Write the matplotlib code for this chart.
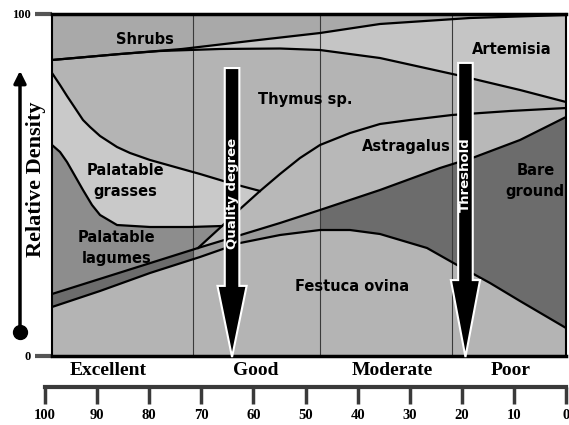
import matplotlib.pyplot as plt
from matplotlib.patches import FancyArrow, Rectangle
from matplotlib.transforms import blended_transform_factory

# condition score runs 100 (left) -> 0 (right); density 0..100
X_LEFT, X_RIGHT = 98.66, 0.0

# boundary curves, left to right (score, relative density)
shrubs_x = [98.66, 85.60, 73.70, 60.65, 47.22, 35.70, 18.43, 0.0]
shrubs_y = [86.55, 88.30, 89.77, 92.11, 94.44, 97.08, 98.83, 99.71]

artem_x = [98.66, 85.60, 77.93, 66.41, 54.89, 47.22, 35.70, 20.92, 8.83, 0.0]
artem_y = [86.55, 88.30, 89.18, 89.77, 89.91, 89.47, 87.13, 82.16, 77.78, 74.27]

grass_x = [98.66, 97.12, 95.78, 94.24, 92.71, 91.36, 89.44, 86.18, 83.69, 79.85, 75.05,
           70.25, 64.49, 58.73]
grass_y = [82.75, 79.24, 76.02, 72.51, 69.01, 66.96, 64.33, 61.11, 59.36, 57.31, 55.26,
           53.22, 50.58, 48.25]

legume_x = [98.66, 97.12, 95.78, 94.24, 92.71, 90.98, 89.44, 86.18, 79.85, 72.17, 66.03]
legume_y = [61.70, 59.65, 56.73, 52.63, 48.54, 44.15, 41.23, 38.30, 37.72, 37.72, 38.01]

astra_x = [70.63, 66.03, 62.57, 58.73, 54.89, 51.06, 47.22, 41.46, 35.70, 29.94, 21.88, 10.75, 0.0]
astra_y = [31.58, 38.01, 42.98, 48.25, 53.22, 57.89, 61.70, 65.20, 67.84, 69.01, 70.47, 71.64, 72.51]

bare_x = [98.66, 70.63, 54.89, 47.22, 35.70, 24.18, 17.47, 8.83, 0.0]
bare_y = [18.13, 31.58, 38.89, 42.69, 48.54, 54.97, 58.19, 63.16, 69.88]

festuca_x = [98.66, 89.44, 79.85, 70.25, 62.57, 54.89, 47.22, 41.46, 35.70, 26.68, 20.92, 14.59, 8.83, 0.0]
festuca_y = [14.33, 19.01, 24.27, 28.95, 33.04, 35.38, 36.84, 36.84, 35.67, 31.58, 26.61, 21.35, 16.08, 8.19]

zone_bounds = [71.6, 47.22, 21.9]
zone_names = ["Excellent", "Good", "Moderate", "Poor"]
zone_label_x = [87.9, 59.5, 33.4, 10.7]
scale_ticks = [100, 90, 80, 70, 60, 50, 40, 30, 20, 10, 0]

# species labels: (text, score, density)
species_labels = [
    ("Shrubs", 80.8, 92.4),
    ("Thymus sp.", 50.1, 74.9),
    ("Artemisia", 10.4, 89.5),
    ("Astragalus", 30.6, 61.4),
    ("Palatable\ngrasses", 84.5, 51.2),
    ("Palatable\nlagumes", 86.2, 31.6),
    ("Bare\nground", 5.9, 51.2),
    ("Festuca ovina", 41.1, 20.2),
]

# arrows: (label, score, top, head start, label centre)
quality_arrow = ("Quality degree", 64.1, 84.2, 20.5, 47.4)
threshold_arrow = ("Threshold", 19.3, 85.7, 22.2, 52.9)


def pick(cx, cy, lo, hi):
    pts = [(x, y) for x, y in zip(cx, cy) if lo - 1e-6 <= x <= hi + 1e-6]
    return [p[0] for p in pts], [p[1] for p in pts]


fig = plt.figure(figsize=(5.69, 4.25), dpi=100)
ax = fig.add_axes([52 / 569, 69 / 425, 514 / 569, 342 / 425])
ax.set_xlim(X_LEFT, X_RIGHT)
ax.set_ylim(0, 100)
ax.set_facecolor("#b4b4b4")

# shrubs
ax.fill(shrubs_x + [X_RIGHT, X_LEFT], shrubs_y + [100, 100], color="#a9a9a9", lw=0, zorder=1)
# artemisia
ax.fill(shrubs_x + artem_x[::-1], shrubs_y + artem_y[::-1], color="#c5c5c5", lw=0, zorder=1)
# palatable grasses
ax_x, ax_y = pick(astra_x, astra_y, grass_x[-1], legume_x[-1])
ax.fill(grass_x + ax_x[::-1] + legume_x[::-1], grass_y + ax_y[::-1] + legume_y[::-1],
        color="#c9c9c9", lw=0, zorder=1)
# palatable legumes
a2x, a2y = pick(astra_x, astra_y, legume_x[-1], astra_x[0])
b2x, b2y = pick(bare_x, bare_y, astra_x[0], X_LEFT)
ax.fill(legume_x + a2x[::-1] + b2x[::-1], legume_y + a2y[::-1] + b2y[::-1],
        color="#8d8d8d", lw=0, zorder=1)
# astragalus
b3x, b3y = pick(bare_x, bare_y, X_RIGHT, astra_x[0])
ax.fill(astra_x + b3x[::-1], astra_y + b3y[::-1], color="#b8b8b8", lw=0, zorder=1)
# bare ground band
band_x = bare_x + festuca_x[::-1]
band_y = bare_y + festuca_y[::-1]
ax.fill(band_x, band_y, color="#6c6c6c", lw=0, zorder=1)
mid = ax.fill(band_x, band_y, color="#9a9a9a", lw=0, zorder=1)[0]
mid.set_clip_path(Rectangle((zone_bounds[1], 0), zone_bounds[0] - zone_bounds[1], 100,
                            transform=ax.transData))
# festuca
ax.fill(festuca_x + [X_RIGHT, X_LEFT], festuca_y + [0, 0], color="#b4b4b4", lw=0, zorder=1)

for cx, cy in [(shrubs_x, shrubs_y), (artem_x, artem_y), (grass_x, grass_y),
               (legume_x, legume_y), (astra_x, astra_y), (bare_x, bare_y),
               (festuca_x, festuca_y)]:
    ax.plot(cx, cy, color="black", lw=1.6, zorder=3, solid_joinstyle="round")

for xb in zone_bounds:
    ax.axvline(xb, color="#3a3a3a", lw=0.8, zorder=2)

for txt, x, y in species_labels:
    ax.text(x, y, txt, ha="center", va="center", fontsize=10.5, fontweight="bold",
            family="DejaVu Sans", linespacing=1.45, zorder=4, clip_on=True)

for label, x, top, head, ymid in [quality_arrow, threshold_arrow]:
    arr = FancyArrow(x, top, 0, -top - 0.3, width=2.8, head_width=5.6, head_length=head + 0.3,
                     length_includes_head=True, fc="black", ec="white", lw=1.5, zorder=5,
                     clip_on=False)
    ax.add_patch(arr)
    ax.text(x, ymid, label, rotation=90, ha="center", va="center",
            color="white", fontsize=9.5, fontweight="bold", zorder=6)

# frame and y ticks
for side, w in [("top", 2.5), ("bottom", 2.5), ("left", 1.5), ("right", 1.5)]:
    ax.spines[side].set_linewidth(w)
    ax.spines[side].set_color("black")
ax.set_xticks([])
ax.set_yticks([0, 100])
ax.set_yticklabels(["0", "100"], family="Liberation Serif", fontweight="bold", fontsize=9)
ax.tick_params(axis="y", length=12, width=3, color="#555555", pad=3)

blend = blended_transform_factory(ax.transData, ax.transAxes)
for name, x in zip(zone_names, zone_label_x):
    ax.text(x, -0.041, name, transform=blend, ha="center", va="center",
            family="Liberation Serif", fontweight="bold", fontsize=14)

# bottom condition scale
sc = fig.add_axes([45 / 569, (425 - 387) / 425, 521 / 569, 0.0001])
sc.set_xlim(100, 0)
for side in ["top", "left", "right"]:
    sc.spines[side].set_visible(False)
sc.spines["bottom"].set_linewidth(3)
sc.spines["bottom"].set_color("#3a3a3a")
sc.set_yticks([])
sc.set_xticks(scale_ticks)
sc.set_xticklabels([str(t) for t in scale_ticks], family="Liberation Serif",
                   fontweight="bold", fontsize=10.5)
sc.tick_params(axis="x", length=12, width=2.5, color="#3a3a3a", pad=4)

# left "Relative Density" arrow
ov = fig.add_axes([0, 0, 1, 1])
ov.set_xlim(0, 569)
ov.set_ylim(425, 0)
ov.axis("off")
ov.annotate("", xy=(20, 68), xytext=(20, 332),
            arrowprops=dict(arrowstyle="-|>", lw=2.5, color="black", mutation_scale=18))
ov.plot([20], [332], "o", color="black", markersize=10)
ov.text(36, 179, "Relative Density", rotation=90, ha="center", va="center",
        family="Liberation Serif", fontweight="bold", fontsize=16)

fig.savefig("out.png", dpi=100)
